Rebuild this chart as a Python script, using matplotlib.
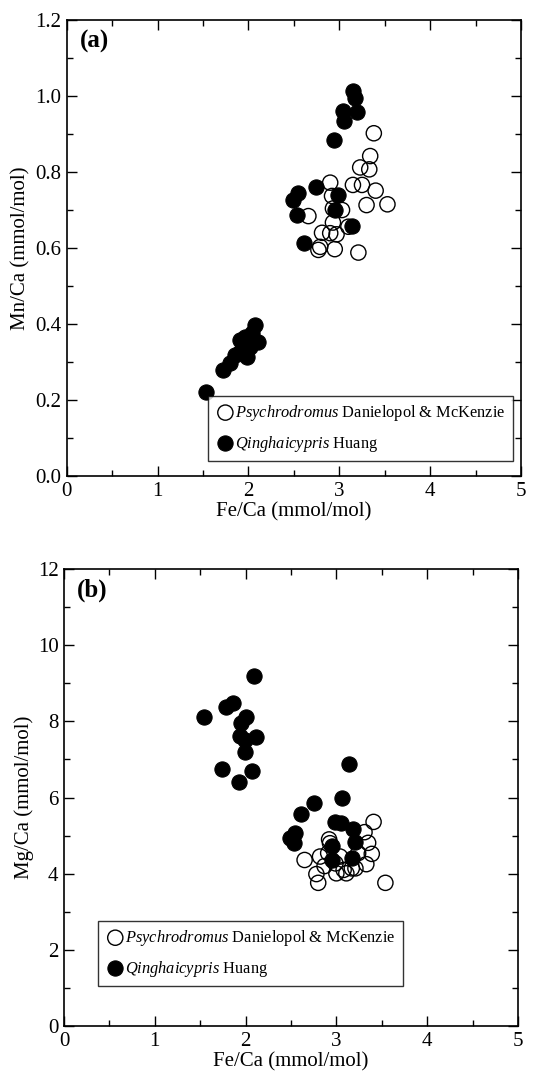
import matplotlib
matplotlib.use("Agg")
import matplotlib.pyplot as plt
from matplotlib.ticker import MultipleLocator

plt.rcParams['font.family'] = ['Liberation Serif', 'DejaVu Serif']
plt.rcParams['mathtext.fontset'] = 'custom'
plt.rcParams['mathtext.rm'] = 'Liberation Serif'
plt.rcParams['mathtext.it'] = 'Liberation Serif:italic'

# ---- data ----
# panel (a): Fe/Ca vs Mn/Ca
psy_fe_a = [3.38, 3.34, 3.23, 3.33, 2.90, 3.15, 3.25, 3.40, 2.92, 3.03, 2.93, 3.30,
            3.53, 2.66, 2.93, 3.10, 2.81, 2.90, 2.97, 2.95, 2.79, 2.77, 3.21]
psy_mn_a = [0.902, 0.842, 0.812, 0.807, 0.772, 0.766, 0.766, 0.751, 0.737, 0.700, 0.704, 0.713,
            0.715, 0.684, 0.667, 0.656, 0.640, 0.639, 0.636, 0.597, 0.603, 0.595, 0.588]
qin_fe_a = [3.15, 3.17, 3.04, 3.19, 3.05, 2.94, 2.74, 2.55, 2.49, 2.99, 2.95, 2.53, 3.14, 2.61,
            1.53, 1.72, 1.80, 1.85, 1.91, 1.91, 1.96, 2.02, 1.98, 2.11, 2.04, 2.07]
qin_mn_a = [1.014, 0.994, 0.961, 0.959, 0.934, 0.884, 0.760, 0.746, 0.726, 0.739, 0.700, 0.687,
            0.658, 0.612, 0.222, 0.279, 0.297, 0.318, 0.327, 0.358, 0.366, 0.340, 0.314, 0.353,
            0.376, 0.397]

# panel (b): Fe/Ca vs Mg/Ca
psy_fe_b = [3.41, 3.31, 3.35, 3.39, 3.33, 3.24, 3.54, 2.65, 2.82, 2.92, 2.93, 2.78, 2.80,
            2.87, 3.00, 3.11, 2.99, 3.21, 3.04, 2.91, 3.17, 3.08]
psy_mg_b = [5.36, 5.09, 4.81, 4.52, 4.25, 4.54, 3.76, 4.36, 4.45, 4.90, 4.80, 3.99, 3.76,
            4.20, 4.01, 4.01, 4.27, 4.14, 4.45, 4.54, 4.14, 4.10]
qin_fe_b = [2.09, 1.86, 1.78, 1.54, 2.01, 1.95, 1.94, 1.99, 2.12, 1.99, 1.74, 2.07, 1.93,
            3.14, 3.06, 2.75, 2.61, 2.99, 3.05, 3.18, 2.54, 2.49, 2.53, 3.21, 2.95, 3.17, 2.95]
qin_mg_b = [9.20, 8.49, 8.38, 8.12, 8.11, 7.96, 7.62, 7.51, 7.58, 7.20, 6.74, 6.70, 6.41,
            6.88, 6.00, 5.86, 5.56, 5.36, 5.32, 5.17, 5.06, 4.93, 4.80, 4.84, 4.73, 4.40, 4.36]

psy_label = r'$\it{Psychrodromus}$ Danielopol & McKenzie'
qin_label = r'$\it{Qinghaicypris}$ Huang'

fig = plt.figure(figsize=(5.34, 10.83), dpi=100)
ax_a = fig.add_axes([0.1249, 0.5605, 0.8508, 0.421])
ax_b = fig.add_axes([0.1199, 0.0526, 0.8500, 0.422])

ms = 120


def style_axes(ax, ymax, ymaj, ymin, ylabel, panel):
    ax.set_xlim(0, 5)
    ax.set_ylim(0, ymax)
    ax.xaxis.set_major_locator(MultipleLocator(1))
    ax.xaxis.set_minor_locator(MultipleLocator(0.5))
    ax.yaxis.set_major_locator(MultipleLocator(ymaj))
    ax.yaxis.set_minor_locator(MultipleLocator(ymin))
    ax.tick_params(which='both', direction='in', top=True, right=True, width=1.0,
                   labelsize=15, pad=4)
    ax.tick_params(which='major', length=7)
    ax.tick_params(which='minor', length=4)
    for sp in ax.spines.values():
        sp.set_linewidth(1.2)
    ax.set_xlabel('Fe/Ca (mmol/mol)', fontsize=15, labelpad=1)
    ax.set_ylabel(ylabel, fontsize=15, labelpad=3)
    ax.text(0.028, 0.978, panel, transform=ax.transAxes, fontsize=18,
            fontweight='bold', va='top', ha='left')


def add_legend(ax, loc, anchor):
    handles, labels = ax.get_legend_handles_labels()
    leg = ax.legend(handles[::-1], labels[::-1], loc=loc, bbox_to_anchor=anchor,
                    fontsize=11.8, frameon=True, fancybox=False, borderpad=0.45,
                    handletextpad=0.0, handlelength=1.2, labelspacing=0.65,
                    borderaxespad=0, scatterpoints=1)
    leg.get_frame().set_edgecolor('black')
    leg.get_frame().set_linewidth(1.0)
    return leg


# panel (a)
ax_a.scatter(qin_fe_a, qin_mn_a, s=ms, c='black', edgecolors='black', linewidths=0.8,
             label=qin_label, zorder=2)
ax_a.scatter(psy_fe_a, psy_mn_a, s=ms, facecolors='none', edgecolors='black',
             linewidths=1.0, label=psy_label, zorder=3)
style_axes(ax_a, 1.2, 0.2, 0.1, 'Mn/Ca (mmol/mol)', '(a)')
ax_a.yaxis.set_major_formatter(plt.FormatStrFormatter('%.1f'))
add_legend(ax_a, 'lower right', (0.982, 0.033))

# panel (b)
ax_b.scatter(qin_fe_b, qin_mg_b, s=ms, c='black', edgecolors='black', linewidths=0.8,
             label=qin_label, zorder=2)
ax_b.scatter(psy_fe_b, psy_mg_b, s=ms, facecolors='none', edgecolors='black',
             linewidths=1.0, label=psy_label, zorder=3)
style_axes(ax_b, 12, 2, 1, 'Mg/Ca (mmol/mol)', '(b)')
add_legend(ax_b, 'lower left', (0.075, 0.0875))

fig.savefig('out.png', dpi=100)
